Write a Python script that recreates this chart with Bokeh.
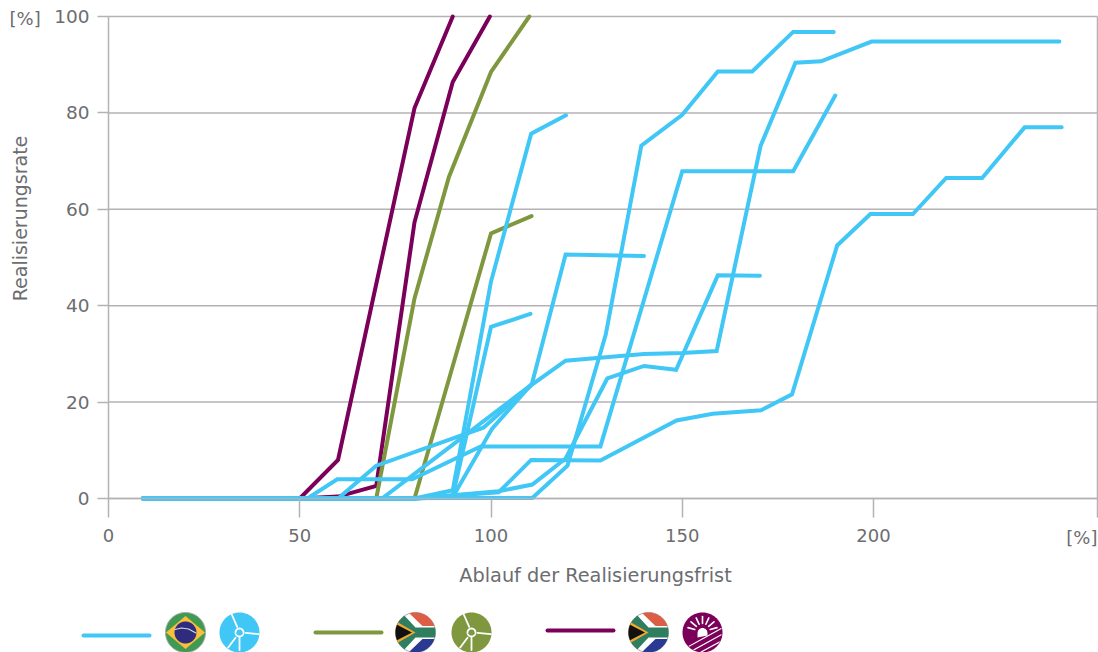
import math
from bokeh.plotting import figure
from bokeh.layouts import column
from bokeh.models import FixedTicker, Label, Range1d
from bokeh.embed import file_html
from bokeh.resources import INLINE

# ---- chart data ----
purple_1_x = [9, 50, 60, 70, 80, 90]
purple_1_y = [0, 0, 8, 44.5, 81, 100]
purple_2_x = [9, 50, 60, 70, 80, 90, 99.7]
purple_2_y = [0, 0, 0.4, 2.6, 57.3, 86.4, 100]
green_1_x = [9, 70, 80, 89, 100, 110]
green_1_y = [0, 0, 41.5, 66.7, 88.5, 100]
green_2_x = [9, 80, 90, 100, 110.6]
green_2_y = [0, 0, 27.5, 55, 58.6]

blue_a_x = [9, 80, 90, 100, 110.5, 119.6]
blue_a_y = [0, 0, 1.7, 45, 75.7, 79.5]
blue_b_x = [9, 80, 90, 100, 110.3]
blue_b_y = [0, 0, 0.5, 35.6, 38.3]
blue_c_x = [9, 80, 90, 100.3, 110.7, 119.5, 140]
blue_c_y = [0, 0, 0.3, 14.5, 23.8, 50.6, 50.3]
blue_d_x = [9, 60, 70, 90.8, 98, 111, 119.5, 130, 140, 150, 159, 170.5, 179.6, 186.3, 199.5, 248.6]
blue_d_y = [0, 0, 6.8, 12.7, 14.7, 23.8, 28.6, 29.3, 30, 30.2, 30.6, 73.2, 90.4, 90.7, 94.8, 94.8]
blue_e_x = [9, 52, 59.8, 79.4, 97.3, 128.6, 150, 179, 190]
blue_e_y = [0, 0, 4, 4, 10.8, 10.8, 67.9, 67.9, 83.6]
blue_f_x = [9, 71.5, 90.2, 110.5]
blue_f_y = [0, 0, 11.3, 23.6]
blue_g_x = [9, 110.8, 120, 130, 139.3, 150, 159.3, 168.3, 179, 189.6]
blue_g_y = [0, 0.1, 6.8, 34, 73.2, 79.6, 88.6, 88.6, 96.8, 96.8]
blue_h_x = [9, 80, 102, 110.8, 119.5, 130.4, 140, 148.4, 159.3, 170.3]
blue_h_y = [0, 0, 1.5, 2.9, 8.3, 24.9, 27.5, 26.7, 46.3, 46.2]
blue_i_x = [9, 80, 102, 110.5, 128.6, 148.5, 158, 170.6, 178.7, 190.5, 199.2, 210.3, 219, 228.4, 239.5, 249.2]
blue_i_y = [0, 0, 1.3, 8, 7.9, 16.2, 17.6, 18.3, 21.6, 52.5, 59, 59, 66.5, 66.5, 77, 77]

x_ticks = [0, 50, 100, 150, 200]
y_ticks = [0, 20, 40, 60, 80, 100]
x_title = "Ablauf der Realisierungsfrist"
y_title = "Realisierungsrate"
unit = "[%]"

BLUE = "#40c7f6"
GREEN = "#7f983f"
PURPLE = "#7b0059"
GRID = "#b4b2b4"
TEXT = "#6c6d70"
FONT = "DejaVu Sans"

PX_X = 3.825
PX_Y = 4.82
X_END = 258.56
def dx(px): return (px - 108) / PX_X
def dy(py): return (498 - py) / PX_Y

p = figure(width=1098, height=590, output_backend="svg", toolbar_location=None,
           x_range=Range1d(dx(0), dx(1098)), y_range=Range1d(dy(590), dy(0)),
           min_border=0, outline_line_color=None)

p.grid.visible = False

xa = p.xaxis[0]
xa.fixed_location = 0
xa.ticker = FixedTicker(ticks=x_ticks + [X_END])
xa.major_label_overrides = {X_END: ""}
xa.bounds = (0, X_END)
xa.axis_line_color = GRID
xa.axis_line_width = 1.5
xa.major_tick_line_color = GRID
xa.major_tick_line_width = 1.5
xa.major_tick_in = 0
xa.major_tick_out = 19
xa.minor_tick_line_color = None
xa.major_label_standoff = 11
xa.major_label_text_font = FONT
xa.major_label_text_font_size = "18px"
xa.major_label_text_color = TEXT

ya = p.yaxis[0]
ya.fixed_location = 0
ya.ticker = FixedTicker(ticks=y_ticks)
ya.bounds = (0, 100)
ya.axis_line_color = GRID
ya.axis_line_width = 1.5
ya.major_tick_line_color = GRID
ya.major_tick_line_width = 1.5
ya.major_tick_in = 0
ya.major_tick_out = 11
ya.minor_tick_line_color = None
ya.major_label_standoff = 8
ya.major_label_text_font = FONT
ya.major_label_text_font_size = "18.5px"
ya.major_label_text_color = TEXT

# gridlines stop at the chart's right border, which also stands above the axis
p.segment([0] * len(y_ticks), y_ticks, [X_END] * len(y_ticks), y_ticks,
          line_color=GRID, line_width=1.5, level="underlay")
p.segment([X_END], [0], [X_END], [100], line_color=GRID, line_width=1.5, level="underlay")

series = [
    (purple_1_x, purple_1_y, PURPLE), (purple_2_x, purple_2_y, PURPLE),
    (green_1_x, green_1_y, GREEN), (green_2_x, green_2_y, GREEN),
    (blue_a_x, blue_a_y, BLUE), (blue_b_x, blue_b_y, BLUE), (blue_c_x, blue_c_y, BLUE),
    (blue_d_x, blue_d_y, BLUE), (blue_e_x, blue_e_y, BLUE), (blue_f_x, blue_f_y, BLUE),
    (blue_g_x, blue_g_y, BLUE), (blue_h_x, blue_h_y, BLUE), (blue_i_x, blue_i_y, BLUE),
]
for xs, ys, c in series:
    p.line(xs, ys, line_color=c, line_width=4, line_join="miter", line_cap="round")

def add_label(text, x, y, size, align="left", angle=0, weight="normal", baseline="middle"):
    p.add_layout(Label(x=dx(x), y=dy(y), text=text, text_font=FONT, text_font_size=size,
                       text_color=TEXT, text_align=align, text_baseline=baseline,
                       angle=angle, angle_units="deg", text_font_style=weight))

add_label(unit, 9, 18, "18px")
add_label(unit, 1097, 537, "18px", align="right")
add_label(x_title, 595, 575, "19.3px", align="center")
add_label(y_title, 19, 218, "19px", align="center", angle=90)

# ---- legend strip: its own figure, in page pixels ----
leg = figure(width=1098, height=62, output_backend="svg", toolbar_location=None,
             x_range=Range1d(0, 1098), y_range=Range1d(652, 590),
             min_border=0, outline_line_color=None, x_axis_type=None, y_axis_type=None)
leg.grid.visible = False

def circle_pts(cx, cy, r, n=72):
    return [(cx + r * math.cos(2 * math.pi * i / n), cy + r * math.sin(2 * math.pi * i / n)) for i in range(n)]

def clip_circle(poly, cx, cy, r, n=72):
    clip = circle_pts(cx, cy, r, n)
    out = list(poly)
    for i in range(n):
        a, b = clip[i], clip[(i + 1) % n]
        inside = lambda q: (b[0] - a[0]) * (q[1] - a[1]) - (b[1] - a[1]) * (q[0] - a[0]) >= 0
        def cross(s, e):
            d1 = (b[0] - a[0]) * (s[1] - a[1]) - (b[1] - a[1]) * (s[0] - a[0])
            d2 = (b[0] - a[0]) * (e[1] - a[1]) - (b[1] - a[1]) * (e[0] - a[0])
            t = d1 / (d1 - d2)
            return (s[0] + t * (e[0] - s[0]), s[1] + t * (e[1] - s[1]))
        inp, out = out, []
        for j in range(len(inp)):
            s, e = inp[j - 1], inp[j]
            if inside(e):
                if not inside(s):
                    out.append(cross(s, e))
                out.append(e)
            elif inside(s):
                out.append(cross(s, e))
        if not out:
            break
    return out

def fill(poly, color):
    leg.patch([q[0] for q in poly], [q[1] for q in poly], fill_color=color, line_color=None)

def disc(cx, cy, r, color, line=None):
    leg.patch(*zip(*circle_pts(cx, cy, r)), fill_color=color, line_color=line, line_width=1)

def shape(cx, cy, r, pts, color):
    poly = clip_circle([(cx + a, cy + b) for a, b in pts], cx, cy, r)
    if poly:
        fill(poly, color)

def stroke(cx, cy, pts, color, width):
    leg.line([cx + a for a, b in pts], [cy + b for a, b in pts], line_color=color, line_width=width, line_cap="round")

def brazil(cx, cy, r=20):
    disc(cx, cy, r, "#3f9b52", "#a8a8a8")
    shape(cx, cy, r, [(-19.5, 0), (0, -16.5), (19.5, 0), (0, 16.5)], "#fbbd3b")
    disc(cx, cy, 11, "#2f2c7e")
    stroke(cx, cy, [(-10.5, -3), (-4, -4.5), (3, -3.5), (10.5, 0.5)], "#d8d8d8", 1.2)

def south_africa(cx, cy, r=20):
    disc(cx, cy, r, "#ffffff", "#a8a8a8")
    shape(cx, cy, r, [(-8, -21), (21, -21), (21, -6.5), (7, -6.5)], "#dc5e46")
    shape(cx, cy, r, [(-8, 21), (21, 21), (21, 6.5), (7, 6.5)], "#2a3a92")
    shape(cx, cy, r, [(-21, -20), (-14, -20), (0, -5), (21, -5), (21, 5), (0, 5), (-14, 20), (-21, 20)], "#2f7e60")
    shape(cx, cy, r, [(-21, -12), (0, 0), (-21, 12)], "#f3a82e")
    shape(cx, cy, r, [(-21, -9), (-3.5, 0), (-21, 9)], "#111111")

def turbine(cx, cy, color, r=20):
    disc(cx, cy, r, color)
    for a, b in [((-2.3, -5.7), (-7.7, -18)), ((6, 0.3), (19.3, 1.7)),
                 ((-4, 5.3), (-11.3, 15)), ((0, 5), (0, 17.5))]:
        stroke(cx, cy, [a, b], "#ffffff", 1.8)
    leg.patch(*zip(*circle_pts(cx, cy, 4)), fill_color=color, line_color="#ffffff", line_width=1.8)

def sun(cx, cy, r=20):
    disc(cx, cy, r, PURPLE)
    half = [(cx - 5 + 10 * i / 20, cy + 0.5 - math.sqrt(max(0, 25 - (5 - 10 * i / 20) ** 2))) for i in range(21)]
    fill(half + [(cx + 5, cy + 3), (cx - 5, cy + 5)], "#ffffff")
    for ang in (195, 220, 245, 270, 295, 320, 345):
        t = math.radians(ang)
        stroke(cx, cy - 1, [(8 * math.cos(t), 8 * math.sin(t)), (15 * math.cos(t), 15 * math.sin(t))], "#ffffff", 1.6)
    for off in (3, 7, 11, 15):
        x0, x1 = -18 + off, 19
        y0 = off + 11
        y1 = off + 11 - (x1 - x0) * 0.55
        shape(cx, cy, r - 0.5, [(x0, y0), (x1, y1), (x1, y1 + 1.3), (x0, y0 + 1.3)], "#ffffff")

leg.line([83, 149], [635, 635], line_color=BLUE, line_width=4, line_cap="round")
leg.line([315, 381], [632, 632], line_color=GREEN, line_width=4, line_cap="round")
leg.line([547, 613], [630, 630], line_color=PURPLE, line_width=4, line_cap="round")
brazil(185, 632)
turbine(239, 632, BLUE)
south_africa(415, 632)
turbine(471, 632, GREEN)
south_africa(648, 632)
sun(702, 632)

layout = column(p, leg, spacing=0)
open("out.html", "w").write(file_html(layout, INLINE))
